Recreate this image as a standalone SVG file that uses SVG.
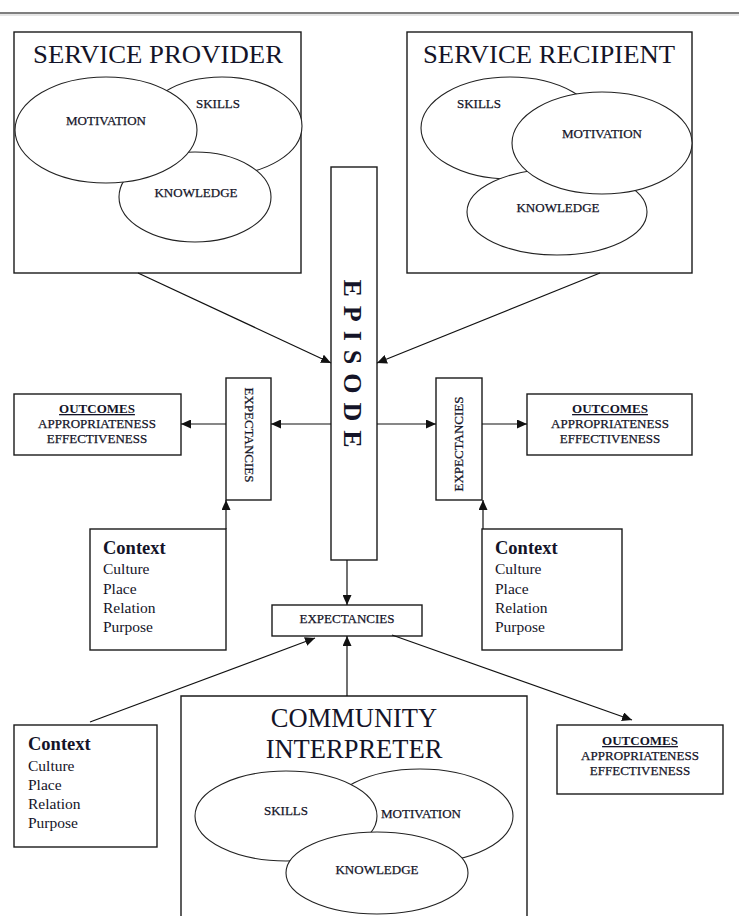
<svg xmlns="http://www.w3.org/2000/svg" width="739" height="916" viewBox="0 0 739 916">
<style>
.box{fill:#fff;stroke:#1a1a1a;stroke-width:1.4}
.ell{fill:#fff;stroke:#222;stroke-width:1.1}
.t{font-family:"Liberation Serif","Times New Roman",serif;fill:#141428}
.title{font-size:25.5px;text-anchor:middle}
.sm{font-size:13px;text-anchor:middle;stroke:#141428;stroke-width:0.25}
.ctx{font-size:15.5px}
.ctxh{font-size:18.5px;font-weight:bold}
.oh{font-size:13px;font-weight:bold;text-decoration:underline;text-anchor:middle}
.ln{stroke:#111;stroke-width:1.2;fill:none;marker-end:url(#ah)}
</style>
<defs>
<marker id="ah" markerUnits="userSpaceOnUse" markerWidth="11" markerHeight="9" refX="10" refY="4.5" orient="auto">
<path d="M0,0 L10,4.5 L0,9 z" fill="#111"/>
</marker>
</defs>
<rect width="739" height="916" fill="#fff"/>
<line x1="0" y1="13" x2="739" y2="13" stroke="#555" stroke-width="1.6"/>
<line x1="0" y1="15" x2="739" y2="15" stroke="#ddd" stroke-width="1.5"/>

<g id="service-provider">
<rect class="box" x="14" y="32" width="287" height="241"/>
<text class="t title" x="158" y="63" textLength="250" lengthAdjust="spacingAndGlyphs">SERVICE PROVIDER</text>
<ellipse class="ell" cx="222" cy="126" rx="80" ry="49"/>
<ellipse class="ell" cx="195" cy="197" rx="76" ry="45"/>
<ellipse class="ell" cx="106" cy="130" rx="91" ry="53"/>
<text class="t sm" x="106" y="125">MOTIVATION</text>
<text class="t sm" x="218" y="108">SKILLS</text>
<text class="t sm" x="196" y="197">KNOWLEDGE</text>
</g>

<g id="service-recipient">
<rect class="box" x="407" y="32" width="285" height="241"/>
<text class="t title" x="549" y="63" textLength="252" lengthAdjust="spacingAndGlyphs">SERVICE RECIPIENT</text>
<ellipse class="ell" cx="510" cy="128" rx="89" ry="51"/>
<ellipse class="ell" cx="557" cy="212" rx="90" ry="43"/>
<ellipse class="ell" cx="602" cy="143" rx="90" ry="51"/>
<text class="t sm" x="479" y="108">SKILLS</text>
<text class="t sm" x="602" y="138">MOTIVATION</text>
<text class="t sm" x="558" y="212">KNOWLEDGE</text>
</g>

<g id="episode">
<rect class="box" x="331" y="167" width="46" height="393"/>
<text class="t" x="352" y="368" transform="rotate(90 352 368)" text-anchor="middle" dominant-baseline="central" font-size="26" font-weight="bold" letter-spacing="9">EPISODE</text>
</g>

<g id="expectancies-left">
<rect class="box" x="226" y="378" width="45" height="122"/>
<text class="t" x="249" y="435" transform="rotate(90 249 435)" text-anchor="middle" dominant-baseline="central" font-size="13" stroke="#141428" stroke-width="0.25">EXPECTANCIES</text>
</g>

<g id="expectancies-right">
<rect class="box" x="436" y="378" width="46" height="122"/>
<text class="t" x="458" y="444" transform="rotate(-90 458 444)" text-anchor="middle" dominant-baseline="central" font-size="13" stroke="#141428" stroke-width="0.25">EXPECTANCIES</text>
</g>

<g id="expectancies-bottom">
<rect class="box" x="272" y="605" width="150" height="31"/>
<text class="t sm" x="347" y="623">EXPECTANCIES</text>
</g>

<g id="outcomes-left">
<rect class="box" x="14" y="394" width="167" height="61"/>
<text class="t oh" x="97" y="413">OUTCOMES</text>
<text class="t sm" x="97" y="428">APPROPRIATENESS</text>
<text class="t sm" x="97" y="443">EFFECTIVENESS</text>
</g>

<g id="outcomes-right">
<rect class="box" x="527" y="394" width="165" height="61"/>
<text class="t oh" x="610" y="413">OUTCOMES</text>
<text class="t sm" x="610" y="428">APPROPRIATENESS</text>
<text class="t sm" x="610" y="443">EFFECTIVENESS</text>
</g>

<g id="outcomes-bottom">
<rect class="box" x="557" y="725" width="166" height="69"/>
<text class="t oh" x="640" y="745">OUTCOMES</text>
<text class="t sm" x="640" y="760">APPROPRIATENESS</text>
<text class="t sm" x="640" y="775">EFFECTIVENESS</text>
</g>

<g id="context-left">
<rect class="box" x="90" y="529" width="136" height="121"/>
<text class="t ctxh" x="103" y="554">Context</text>
<text class="t ctx" x="103" y="574">Culture</text>
<text class="t ctx" x="103" y="594">Place</text>
<text class="t ctx" x="103" y="613">Relation</text>
<text class="t ctx" x="103" y="632">Purpose</text>
</g>

<g id="context-right">
<rect class="box" x="482" y="529" width="140" height="121"/>
<text class="t ctxh" x="495" y="554">Context</text>
<text class="t ctx" x="495" y="574">Culture</text>
<text class="t ctx" x="495" y="594">Place</text>
<text class="t ctx" x="495" y="613">Relation</text>
<text class="t ctx" x="495" y="632">Purpose</text>
</g>

<g id="context-bottom">
<rect class="box" x="14" y="725" width="143" height="122"/>
<text class="t ctxh" x="28" y="750">Context</text>
<text class="t ctx" x="28" y="771">Culture</text>
<text class="t ctx" x="28" y="790">Place</text>
<text class="t ctx" x="28" y="809">Relation</text>
<text class="t ctx" x="28" y="828">Purpose</text>
</g>

<g id="community-interpreter">
<path class="box" d="M181,920 V696 H527 V920"/>
<text class="t" x="354" y="727" text-anchor="middle" font-size="26.5">COMMUNITY</text>
<text class="t" x="354" y="758" text-anchor="middle" font-size="26.5">INTERPRETER</text>
<ellipse class="ell" cx="420" cy="816" rx="93" ry="47"/>
<ellipse class="ell" cx="286" cy="816" rx="91" ry="45"/>
<ellipse class="ell" cx="377" cy="873" rx="91" ry="41"/>
<text class="t sm" x="286" y="815">SKILLS</text>
<text class="t sm" x="421" y="818">MOTIVATION</text>
<text class="t sm" x="377" y="874">KNOWLEDGE</text>
</g>

<g id="connectors">
<line class="ln" x1="138" y1="273" x2="331" y2="363"/>
<line class="ln" x1="600" y1="273" x2="377" y2="363"/>
<line class="ln" x1="331" y1="424" x2="271" y2="424"/>
<line class="ln" x1="226" y1="424" x2="181" y2="424"/>
<line class="ln" x1="377" y1="424" x2="436" y2="424"/>
<line class="ln" x1="482" y1="424" x2="527" y2="424"/>
<line class="ln" x1="226" y1="529" x2="226" y2="500"/>
<line class="ln" x1="483" y1="529" x2="483" y2="500"/>
<line class="ln" x1="347" y1="560" x2="347" y2="605"/>
<line class="ln" x1="347" y1="696" x2="347" y2="636"/>
<line class="ln" x1="90" y1="722" x2="315" y2="638"/>
<line class="ln" x1="392" y1="635" x2="632" y2="720"/>
</g>
</svg>
